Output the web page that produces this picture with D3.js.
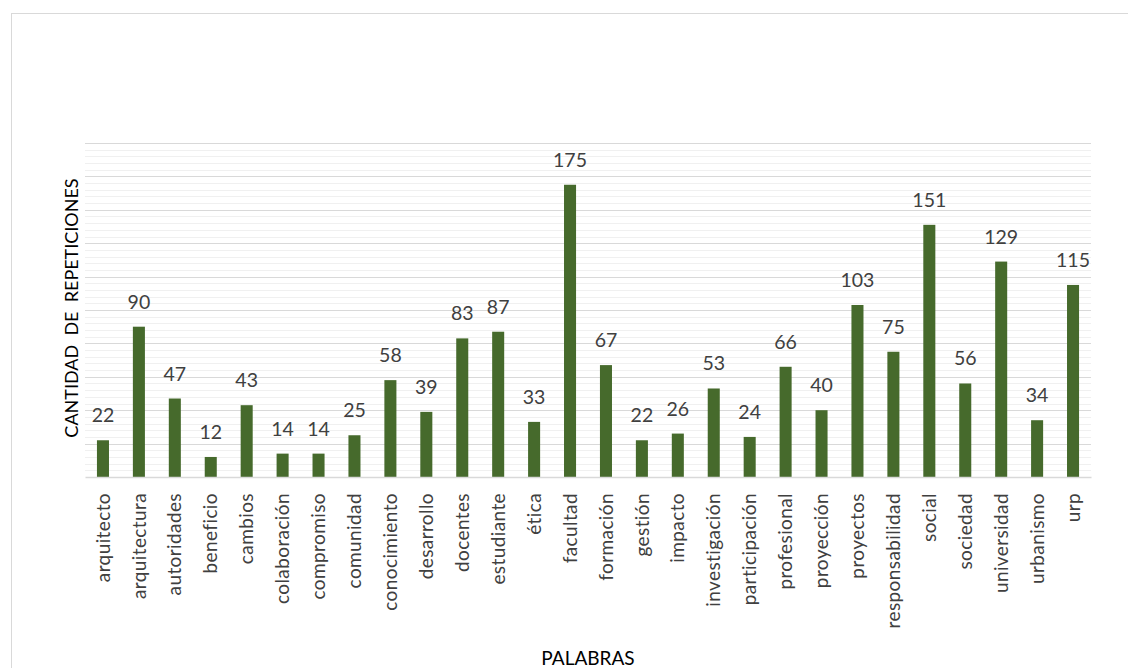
<!DOCTYPE html>
<html><head><meta charset="utf-8">
<script src="https://cdn.jsdelivr.net/npm/d3@7"></script>
<style>
html,body{margin:0;padding:0;background:#fff;}
svg{display:block;font-family:Lato,"Open Sans",sans-serif;}
</style></head>
<body>
<svg id="chart" width="1128" height="668"></svg>
<script>
const categories = ["arquitecto","arquitectura","autoridades","beneficio","cambios","colaboración","compromiso","comunidad","conocimiento","desarrollo","docentes","estudiante","ética","facultad","formación","gestión","impacto","investigación","participación","profesional","proyección","proyectos","responsabilidad","social","sociedad","universidad","urbanismo","urp"];
const values = [22,90,47,12,43,14,14,25,58,39,83,87,33,175,67,22,26,53,24,66,40,103,75,151,56,129,34,115];
const yMax = 200;
const majorStep = 20;
const minorStep = 4;
const yTitle = "CANTIDAD  DE  REPETICIONES";
const xTitle = "PALABRAS";

(function(){
const svg = d3.select("#chart");
const pLeft = 85, pRight = 1091, pTop = 143, pBottom = 477;

// outer border
svg.append("rect").attr("x",11.5).attr("y",13.5).attr("width",1200).attr("height",700)
  .attr("fill","none").attr("stroke","#d9d9d9").attr("stroke-width",1);

const x = d3.scaleBand().domain(categories).range([pLeft,pRight]).paddingInner(0.665).paddingOuter(0.3325);
const y = d3.scaleLinear().domain([0,yMax]).range([pBottom,pTop]);

// minor grid
const minorTicks = d3.range(minorStep, yMax+0.001, minorStep).filter(v => v % majorStep !== 0);
svg.append("g").selectAll("line").data(minorTicks).join("line")
  .attr("x1",pLeft).attr("x2",pRight)
  .attr("y1",d=>Math.round(y(d))+0.5).attr("y2",d=>Math.round(y(d))+0.5)
  .attr("stroke","#f0f0f0").attr("stroke-width",1);
// major grid
const majorTicks = d3.range(majorStep, yMax+0.001, majorStep);
svg.append("g").selectAll("line").data(majorTicks).join("line")
  .attr("x1",pLeft).attr("x2",pRight)
  .attr("y1",d=>Math.round(y(d))+0.5).attr("y2",d=>Math.round(y(d))+0.5)
  .attr("stroke","#d9d9d9").attr("stroke-width",1);

// bars
svg.append("g").selectAll("rect").data(values).join("rect")
  .attr("x",(d,i)=>x(categories[i]))
  .attr("width",x.bandwidth())
  .attr("y",d=>y(d))
  .attr("height",d=>y(0)-y(d))
  .attr("fill","#466a2c");

// baseline axis
const xAxis = svg.append("g").attr("transform",`translate(0,${pBottom})`)
  .call(d3.axisBottom(x).tickSize(0).tickPadding(0));
xAxis.select(".domain").attr("stroke","#d9d9d9").attr("stroke-width",1.3);
xAxis.selectAll(".tick text")
  .attr("transform","rotate(-90)")
  .attr("x",-16).attr("y",0).attr("dy","0.35em")
  .attr("text-anchor","end")
  .attr("font-family","Lato, sans-serif")
  .attr("font-size",19)
  .attr("letter-spacing",0.4)
  .attr("fill","#404040");

// value labels
svg.append("g").selectAll("text").data(values).join("text")
  .attr("x",(d,i)=>x(categories[i])+x.bandwidth()/2)
  .attr("y",d=>y(d)-18)
  .attr("text-anchor","middle")
  .attr("font-size",19.5)
  .attr("fill","#404040")
  .text(d=>d);

// axis titles
svg.append("text")
  .attr("transform","translate(78,308) rotate(-90)")
  .attr("text-anchor","middle")
  .attr("font-size",18)
  .attr("fill","#000")
  .style("white-space","pre")
  .text(yTitle);
svg.append("text")
  .attr("x",588).attr("y",665)
  .attr("text-anchor","middle")
  .attr("font-size",19)
  .attr("fill","#000")
  .text(xTitle);
})();
</script>
</body></html>
